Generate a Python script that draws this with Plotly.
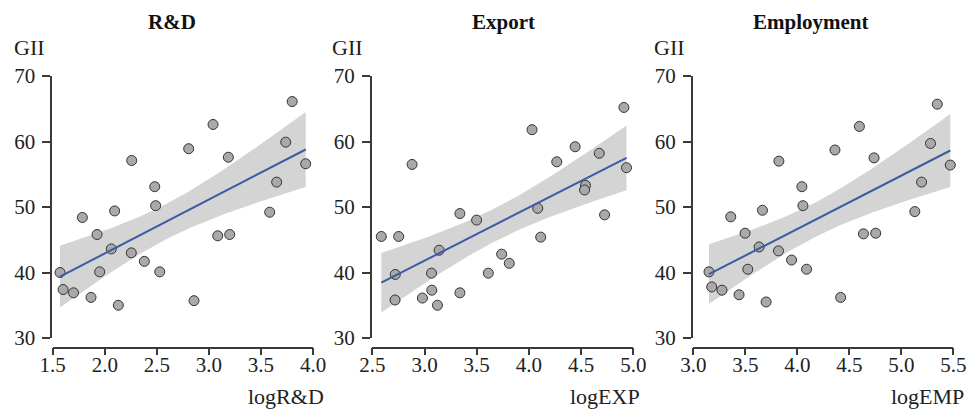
import numpy as np
import plotly.graph_objects as go

# ---------------- data ----------------
gii_rd = [40.0, 37.4, 36.9, 48.4, 36.2, 45.8, 40.1, 43.6, 49.4, 35.0, 43.0, 57.1, 41.7, 53.1,
          50.2, 40.1, 58.9, 35.7, 62.6, 45.6, 57.6, 45.8, 49.2, 53.8, 59.9, 66.1, 56.6]
log_rd = [1.57, 1.60, 1.70, 1.785, 1.868, 1.926, 1.951, 2.063, 2.095, 2.13, 2.255, 2.259, 2.38, 2.48,
          2.489, 2.528, 2.806, 2.857, 3.04, 3.085, 3.187, 3.20, 3.584, 3.651, 3.738, 3.80, 3.93]

log_exp = [2.586, 2.753, 2.72, 2.718, 2.881, 2.98, 3.067, 3.07, 3.124, 3.14, 3.339, 3.339, 3.499,
           3.611, 3.739, 3.812, 4.03, 4.085, 4.113, 4.267, 4.443, 4.542, 4.533, 4.674, 4.725, 4.91, 4.935]
gii_exp = [45.5, 45.5, 39.7, 35.8, 56.5, 36.1, 39.9, 37.3, 35.0, 43.4, 49.0, 36.9, 48.0,
           39.9, 42.8, 41.4, 61.8, 49.8, 45.4, 56.9, 59.2, 53.3, 52.6, 58.2, 48.8, 65.2, 56.0]

log_emp = [3.151, 3.177, 3.276, 3.36, 3.44, 3.498, 3.524, 3.633, 3.665, 3.70, 3.819, 3.823, 3.945,
           4.044, 4.054, 4.089, 4.362, 4.417, 4.597, 4.636, 4.738, 4.754, 5.13, 5.195, 5.281, 5.346, 5.471]
gii_emp = [40.1, 37.8, 37.3, 48.5, 36.6, 46.0, 40.5, 43.9, 49.5, 35.5, 43.3, 57.0, 41.9,
           53.1, 50.2, 40.5, 58.7, 36.2, 62.3, 45.9, 57.5, 46.0, 49.3, 53.8, 59.7, 65.7, 56.4]

titles = ["R&D", "Export", "Employment"]
x_labels = ["logR&D", "logEXP", "logEMP"]
y_label = "GII"
x_ticks = [[1.5, 2.0, 2.5, 3.0, 3.5, 4.0], [2.5, 3.0, 3.5, 4.0, 4.5, 5.0], [3.0, 3.5, 4.0, 4.5, 5.0, 5.5]]
y_ticks = [30, 40, 50, 60, 70]

panels = [(log_rd, gii_rd), (log_exp, gii_exp), (log_emp, gii_emp)]

# ---------------- layout geometry (pixels) ----------------
W, H = 971, 412
px_dom = [(52.7, 313.0), (372.3, 633.3), (693.3, 953.3)]
y_top_px, y_bot_px, xaxis_px = 76, 338, 347.5
title_cx = [171.5, 503, 811]
gii_left = [12, 330, 651.5]
xlab_right = [326, 642, 966]

FONT = "Liberation Serif, DejaVu Serif, serif"
T_CRIT = 2.06  # t(0.975, df=25)

fig = go.Figure()
annotations = []
for i, (xs, ys) in enumerate(panels):
    xs = np.asarray(xs, float)
    ys = np.asarray(ys, float)
    n = len(xs)
    b, a = np.polyfit(xs, ys, 1)
    resid = ys - (a + b * xs)
    s = np.sqrt(np.sum(resid ** 2) / (n - 2))
    xbar = xs.mean()
    sxx = np.sum((xs - xbar) ** 2)
    xg = np.linspace(xs.min(), xs.max(), 100)
    yg = a + b * xg
    se = s * np.sqrt(1.0 / n + (xg - xbar) ** 2 / sxx)
    lo, hi = yg - T_CRIT * se, yg + T_CRIT * se
    xa = "x" if i == 0 else f"x{i+1}"
    ya = "y" if i == 0 else f"y{i+1}"
    fig.add_trace(go.Scatter(x=xg, y=lo, mode="lines", line=dict(width=0), hoverinfo="skip",
                             showlegend=False, xaxis=xa, yaxis=ya))
    fig.add_trace(go.Scatter(x=xg, y=hi, mode="lines", line=dict(width=0), fill="tonexty",
                             fillcolor="rgba(205,205,205,0.85)", hoverinfo="skip",
                             showlegend=False, xaxis=xa, yaxis=ya))
    fig.add_trace(go.Scatter(x=xs, y=ys, mode="markers",
                             marker=dict(size=10, color="#a9a9a9", line=dict(color="#333333", width=1)),
                             showlegend=False, xaxis=xa, yaxis=ya, cliponaxis=False))
    fig.add_trace(go.Scatter(x=xg, y=yg, mode="lines", line=dict(color="#3b5ba5", width=2),
                             showlegend=False, xaxis=xa, yaxis=ya))

    x0, x1 = px_dom[i]
    xt = x_ticks[i]
    common_axis = dict(showgrid=False, zeroline=False, showline=True, linecolor="#3a3a3a",
                       linewidth=1.5, ticks="outside", tickcolor="#3a3a3a", tickwidth=1.5,
                       automargin=False,
                       tickfont=dict(family=FONT, size=21, color="#222222"))
    fig.layout[f"xaxis{'' if i == 0 else i+1}"] = dict(
        domain=[x0 / W, x1 / W], range=[xt[0], xt[-1]], anchor="free",
        position=1 - xaxis_px / H, tickvals=xt, ticktext=[f"{v:.1f}" for v in xt],
        ticklen=7, ticklabelstandoff=-8, **common_axis)
    fig.layout[f"yaxis{'' if i == 0 else i+1}"] = dict(
        domain=[1 - y_bot_px / H, 1 - y_top_px / H], range=[30, 70], anchor="free",
        position=(x0 - 1.5) / W, tickvals=y_ticks, ticklen=8, ticklabelstandoff=3, **common_axis)

    annotations.append(dict(text=f"<b>{titles[i]}</b>", x=title_cx[i] / W, y=1 - 22 / H,
                            xref="paper", yref="paper", xanchor="center", yanchor="middle",
                            showarrow=False, font=dict(family=FONT, size=21, color="#111111")))
    annotations.append(dict(text=y_label, x=gii_left[i] / W, y=1 - 48 / H, xref="paper", yref="paper",
                            xanchor="left", yanchor="middle", showarrow=False,
                            font=dict(family=FONT, size=22, color="#222222")))
    annotations.append(dict(text=x_labels[i], x=xlab_right[i] / W, y=1 - 396 / H, xref="paper",
                            yref="paper", xanchor="right", yanchor="middle", showarrow=False,
                            font=dict(family=FONT, size=22, color="#222222")))

fig.update_layout(template="none", width=W, height=H, margin=dict(l=0, r=0, t=0, b=0, pad=0),
                  paper_bgcolor="white", plot_bgcolor="white", annotations=annotations,
                  showlegend=False, font=dict(family=FONT))
fig.write_html("out.html", config={"displayModeBar": False},
               post_script="document.body.style.margin='0px';document.body.style.overflow='hidden';")
